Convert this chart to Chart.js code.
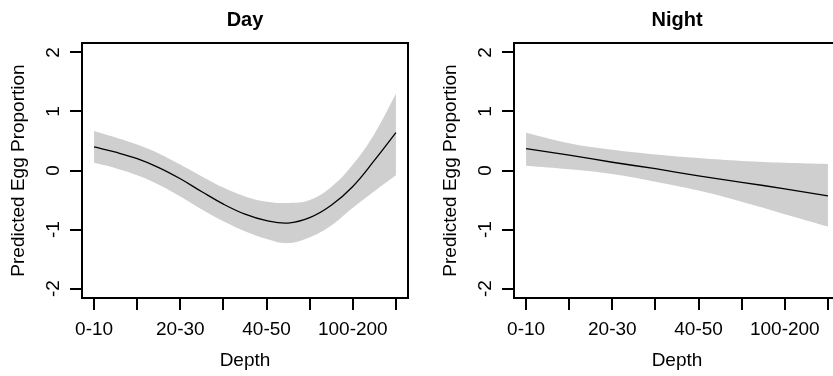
<!DOCTYPE html>
<html>
<head>
<meta charset="utf-8">
<script src="https://cdn.jsdelivr.net/npm/chart.js@4"></script>
<style>
  html, body { margin: 0; padding: 0; background: #fff; overflow: hidden; }
  #wrap { position: relative; width: 833px; height: 376px; overflow: hidden; }
  canvas { position: absolute; top: 0; }
</style>
</head>
<body>
<div id="wrap">
  <canvas id="day" width="432" height="376" style="left:0px"></canvas>
  <canvas id="night" width="432" height="376" style="left:432px"></canvas>
</div>
<script>
// depth class positions (1 = 0-10 ... 8 = last class)
const dayX = [1, 1.5, 2, 2.5, 3, 3.5, 4, 4.5, 5, 5.5, 6, 6.5, 7, 7.5, 8];
const dayFit   = [0.40, 0.31, 0.20, 0.05, -0.14, -0.36, -0.57, -0.74, -0.85, -0.89, -0.80, -0.59, -0.27, 0.17, 0.64];
const dayUpper = [0.67, 0.56, 0.44, 0.29, 0.10, -0.10, -0.29, -0.44, -0.53, -0.55, -0.50, -0.28, 0.10, 0.62, 1.30];
const dayLower = [0.13, 0.04, -0.08, -0.24, -0.44, -0.66, -0.86, -1.03, -1.16, -1.23, -1.13, -0.93, -0.63, -0.35, -0.08];

const nightX = [1, 2, 3, 4, 5, 6, 7, 8];
const nightFit   = [0.37, 0.26, 0.14, 0.03, -0.09, -0.20, -0.31, -0.43];
const nightUpper = [0.64, 0.46, 0.35, 0.27, 0.21, 0.16, 0.13, 0.11];
const nightLower = [0.08, 0.02, -0.06, -0.19, -0.34, -0.53, -0.74, -0.95];

const xTickPos = [1, 2, 3, 4, 5, 6, 7, 8];
const xTickLabels = ['0-10', '', '20-30', '', '40-50', '', '100-200', ''];
const yTicks = [-2, -1, 0, 1, 2];

Chart.defaults.font.family = '"Liberation Sans", Arial, Helvetica, sans-serif';
Chart.defaults.font.size = 19;
Chart.defaults.color = '#000';

// box around the plot region, R style
const boxPlugin = {
  id: 'box',
  afterDatasetsDraw(chart) {
    const a = chart.chartArea, ctx = chart.ctx;
    ctx.save();
    ctx.strokeStyle = '#000';
    ctx.lineWidth = 2;
    ctx.strokeRect(a.left, a.top, a.right - a.left, a.bottom - a.top);
    ctx.restore();
  }
};

function pts(xs, ys) {
  return xs.map((x, i) => ({ x: x, y: ys[i] }));
}

function makeChart(id, title, xs, fit, upper, lower) {
  new Chart(document.getElementById(id), {
    type: 'line',
    data: {
      datasets: [
        { data: pts(xs, fit), borderColor: '#000', borderWidth: 1.3, pointRadius: 0, fill: false, tension: 0.4 },
        { data: pts(xs, upper), borderWidth: 0, pointRadius: 0, backgroundColor: '#cfcfcf', fill: '+1', tension: 0.4 },
        { data: pts(xs, lower), borderWidth: 0, pointRadius: 0, fill: false, tension: 0.4 }
      ]
    },
    options: {
      responsive: false,
      animation: false,
      devicePixelRatio: 1,
      layout: { padding: { left: 0, right: 24, top: 0, bottom: 0 } },
      plugins: {
        legend: { display: false },
        tooltip: { enabled: false },
        title: {
          display: true, text: title, fullSize: false,
          font: { size: 20, weight: 'bold' },
          padding: { top: 8, bottom: 11 }
        }
      },
      scales: {
        x: {
          type: 'linear', min: 0.72, max: 8.28, bounds: 'data',
          afterBuildTicks: s => { s.ticks = xTickPos.map(v => ({ value: v })); },
          afterFit: s => { s.height = 78; },
          grid: { drawOnChartArea: false, drawTicks: true, tickLength: 12, color: '#000', lineWidth: 2 },
          border: { display: false },
          ticks: { autoSkip: false, maxRotation: 0, padding: 8,
                   callback: (v, i) => xTickLabels[i] },
          title: { display: true, text: 'Depth', padding: { top: 0, bottom: 4 } }
        },
        y: {
          type: 'linear', min: -2.16, max: 2.16, bounds: 'data',
          afterBuildTicks: s => { s.ticks = yTicks.map(v => ({ value: v })); },
          afterFit: s => { s.width = 82; },
          grid: { drawOnChartArea: false, drawTicks: true, tickLength: 12, color: '#000', lineWidth: 2 },
          border: { display: false },
          ticks: { minRotation: 90, maxRotation: 90, crossAlign: 'center', padding: 8 },
          title: { display: true, text: 'Predicted Egg Proportion', padding: { top: 7, bottom: 0 } }
        }
      }
    },
    plugins: [boxPlugin]
  });
}

makeChart('day', 'Day', dayX, dayFit, dayUpper, dayLower);
makeChart('night', 'Night', nightX, nightFit, nightUpper, nightLower);
</script>
</body>
</html>
